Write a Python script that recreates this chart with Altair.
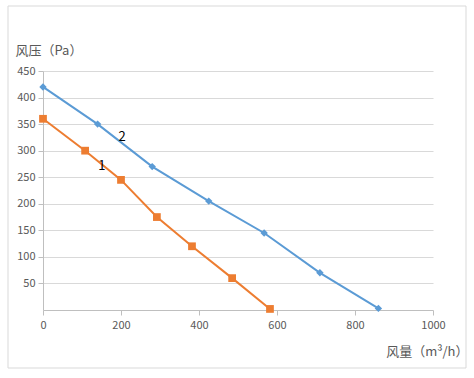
import altair as alt
import pandas as pd

# Curve 2 (blue)
x2 = [0, 140, 280, 425, 567, 710, 860]
y2 = [420, 350, 270, 205, 145, 70, 3]
# Curve 1 (orange)
x1 = [0, 108, 200, 292, 382, 485, 582]
y1 = [360, 300, 245, 175, 120, 60, 2]

label_names = ["1", "2"]
label_x = [151, 203]
label_y = [271, 325]

x_ticks = [0, 200, 400, 600, 800, 1000]
y_ticks = [50, 100, 150, 200, 250, 300, 350, 400, 450]

BLUE = "#5B9BD5"
ORANGE = "#ED7D31"
FONT = "Noto Sans CJK SC"

df = pd.DataFrame(
    {"q": x2 + x1, "p": y2 + y1, "s": ["2"] * len(x2) + ["1"] * len(x1)}
)
labels = pd.DataFrame({"q": label_x, "p": label_y, "t": label_names})

xs = alt.Scale(domain=[0, 1000], nice=False)
ys = alt.Scale(domain=[0, 450], nice=False)
color = alt.Color("s:N", scale=alt.Scale(domain=["1", "2"], range=[ORANGE, BLUE]), legend=None)

x_axis = alt.Axis(
    values=x_ticks, tickCount=12, format="d", grid=False, domainColor="#BFBFBF", tickColor="#BFBFBF", tickSize=5,
    labelColor="#595959", labelFont=FONT, labelFontSize=11, labelPadding=4,
    labelOverlap=False, labelFlush=False,
    title="风量（m³/h）", titleFont=FONT, titleFontSize=13, titleFontWeight="normal",
    titleColor="#595959", titleAnchor="end", titleAlign="right", titleBaseline="middle",
    titleX=425, titleY=41,
)
y_axis = alt.Axis(
    values=y_ticks, tickCount=20, grid=True, gridColor="#D9D9D9", domainColor="#BFBFBF", tickColor="#BFBFBF",
    tickSize=5, labelColor="#595959", labelFont=FONT, labelFontSize=11, labelPadding=3,
    labelOverlap=False, labelFlush=False,
    title="风压（Pa）", titleFont=FONT, titleFontSize=13, titleFontWeight="normal",
    titleColor="#595959", titleAngle=0, titleAlign="left", titleBaseline="middle",
    titleX=-28, titleY=-21,
)

base = alt.Chart(df)
lines = base.mark_line(strokeWidth=2).encode(
    x=alt.X("q:Q", scale=xs, axis=x_axis),
    y=alt.Y("p:Q", scale=ys, axis=y_axis),
    color=color,
    detail="s:N",
)
pts_blue = base.transform_filter(alt.datum.s == "2").mark_point(
    shape="diamond", filled=True, size=55, opacity=1, color=BLUE
).encode(x=alt.X("q:Q", scale=xs, axis=x_axis), y=alt.Y("p:Q", scale=ys, axis=y_axis))
pts_orange = base.transform_filter(alt.datum.s == "1").mark_point(
    shape="square", filled=True, size=60, opacity=1, color=ORANGE
).encode(x=alt.X("q:Q", scale=xs, axis=x_axis), y=alt.Y("p:Q", scale=ys, axis=y_axis))

txt = alt.Chart(labels).mark_text(font=FONT, fontSize=13, color="#000000").encode(
    x=alt.X("q:Q", scale=xs, axis=x_axis), y=alt.Y("p:Q", scale=ys, axis=y_axis), text="t:N"
)

frame = alt.Chart(pd.DataFrame({"a": [0]})).mark_rect(
    fill=None, stroke="#D9D9D9", strokeWidth=1
).encode(x=alt.value(-35), x2=alt.value(423), y=alt.value(-65), y2=alt.value(297))

chart = alt.layer(frame, lines, pts_blue, pts_orange, txt).properties(
    width=390, height=239,
    autosize=alt.AutoSizeParams(type="none"),
    padding={"left": 43, "top": 71, "right": 41, "bottom": 68},
    background="white",
).configure_view(stroke=None)

chart.save("out.html", embed_options={"renderer": "svg", "actions": False})
